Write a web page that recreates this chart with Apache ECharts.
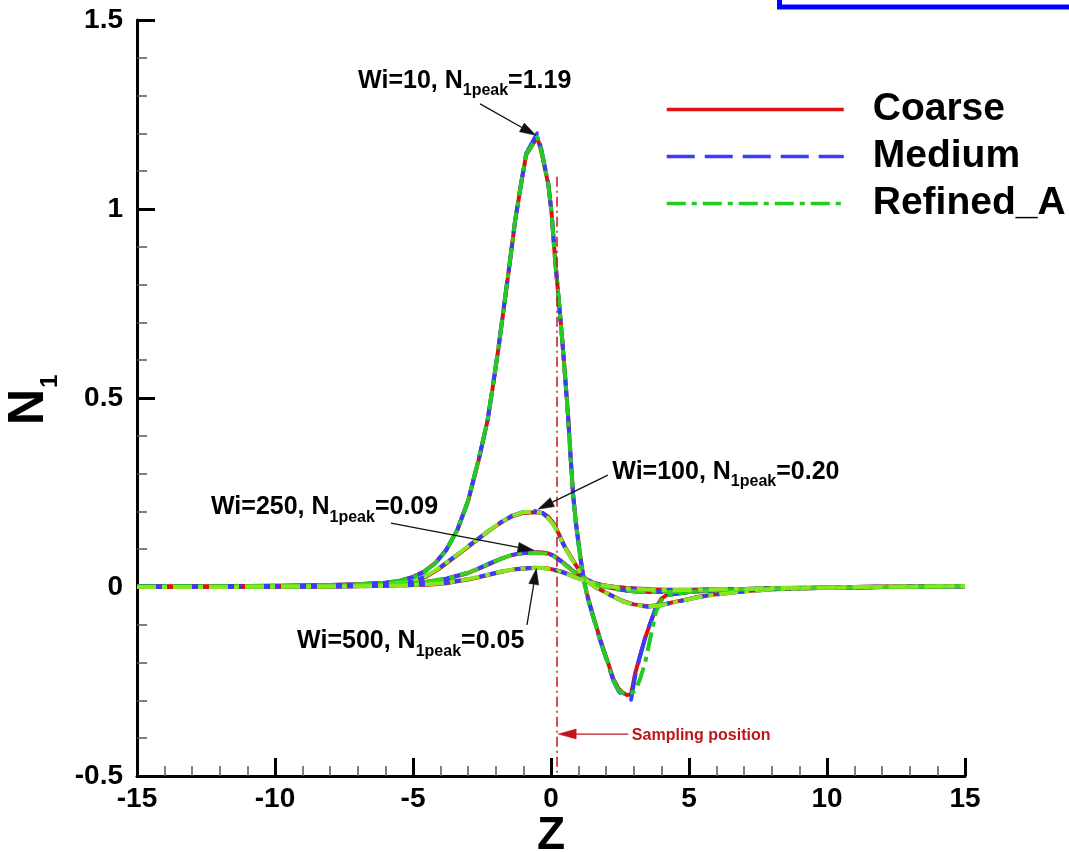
<!DOCTYPE html>
<html>
<head>
<meta charset="utf-8">
<script src="https://cdn.jsdelivr.net/npm/echarts@6/dist/echarts.min.js"></script>
<style>
  html, body { margin: 0; padding: 0; background: #ffffff; }
  #chart { width: 1069px; height: 852px; }
</style>
</head>
<body>
<div id="chart"></div>
<script>
// ---- N1 profiles along Z for three meshes and four Weissenberg numbers ----

// Wi = 10
const zWi10 = [-15, -12, -10, -8, -7, -6, -5.5, -5, -4.6, -4.2,
  -3.8, -3.4, -3.0, -2.6, -2.3, -2.1, -1.9, -1.7, -1.5, -1.3,
  -1.1, -0.9, -0.5, -0.35, -0.1, 0.02, 0.15, 0.27, 0.4, 0.52,
  0.62, 0.7, 0.8, 0.9, 1.05, 1.17, 1.29, 1.53, 1.78, 2.02,
  2.26, 2.44, 2.6, 2.75, 2.9, 3.05, 3.22, 3.41, 3.6, 3.8,
  4.0, 4.2, 5, 6, 7, 8, 10, 12, 15];
const n1Wi10Coarse = [0.002, 0.002, 0.003, 0.005, 0.007, 0.011, 0.016, 0.027, 0.041, 0.063,
  0.098, 0.15, 0.228, 0.342, 0.44, 0.533, 0.633, 0.743, 0.853, 0.968,
  1.058, 1.143, 1.19, 1.152, 1.066, 0.99, 0.866, 0.77, 0.662, 0.55,
  0.452, 0.357, 0.247, 0.172, 0.087, 0.029, -0.015, -0.077, -0.138, -0.19,
  -0.243, -0.268, -0.28, -0.286, -0.284, -0.228, -0.184, -0.135, -0.095, -0.057,
  -0.031, -0.021, -0.013, -0.009, -0.006, -0.004, -0.002, 0, 0.002];
const n1Wi10Medium = [0.002, 0.002, 0.003, 0.005, 0.007, 0.011, 0.016, 0.026, 0.04, 0.062,
  0.097, 0.149, 0.229, 0.344, 0.44, 0.535, 0.636, 0.746, 0.856, 0.97,
  1.061, 1.147, 1.2, 1.158, 1.069, 0.99, 0.864, 0.767, 0.659, 0.547,
  0.449, 0.354, 0.244, 0.169, 0.084, 0.026, -0.018, -0.08, -0.141, -0.194,
  -0.248, -0.274, -0.287, -0.296, -0.298, -0.235, -0.184, -0.135, -0.095, -0.055,
  -0.032, -0.021, -0.013, -0.009, -0.006, -0.004, -0.002, 0, 0.002];
const n1Wi10Refined = [0.002, 0.002, 0.003, 0.005, 0.007, 0.011, 0.016, 0.026, 0.04, 0.062,
  0.097, 0.15, 0.23, 0.345, 0.44, 0.535, 0.635, 0.745, 0.855, 0.97,
  1.06, 1.145, 1.19, 1.155, 1.068, 0.99, 0.865, 0.768, 0.66, 0.548,
  0.45, 0.355, 0.245, 0.17, 0.085, 0.027, -0.017, -0.079, -0.14, -0.193,
  -0.246, -0.272, -0.281, -0.282, -0.28, -0.275, -0.245, -0.2, -0.135, -0.066,
  -0.035, -0.022, -0.013, -0.009, -0.006, -0.004, -0.002, 0, 0.002];

// Wi = 100
const zWi100 = [-15, -12, -10, -8, -7, -6, -5, -4.5, -4.1, -3.8,
  -3.4, -3.0, -2.6, -2.2, -1.8, -1.4, -1.0, -0.6, -0.3, -0.1,
  0.1, 0.3, 0.5, 0.8, 1.1, 1.4, 1.7, 2.0, 2.6, 3.0,
  3.5, 4.0, 4.7, 5.4, 6.5, 8, 10, 12, 15];
const n1Wi100Coarse = [0, 0, 0.001, 0.002, 0.003, 0.006, 0.013, 0.028, 0.046, 0.062,
  0.084, 0.106, 0.129, 0.151, 0.171, 0.187, 0.196, 0.198, 0.196, 0.186,
  0.168, 0.138, 0.107, 0.07, 0.034, 0.011, -0.004, -0.015, -0.037, -0.046,
  -0.051, -0.047, -0.036, -0.025, -0.014, -0.006, -0.002, 0, 0.002];
const n1Wi100Medium = [0, 0, 0.001, 0.002, 0.003, 0.006, 0.014, 0.03, 0.048, 0.064,
  0.086, 0.108, 0.13, 0.152, 0.172, 0.189, 0.199, 0.201, 0.195, 0.182,
  0.164, 0.135, 0.105, 0.068, 0.033, 0.01, -0.005, -0.016, -0.038, -0.047,
  -0.052, -0.048, -0.037, -0.026, -0.015, -0.006, -0.002, 0, 0.002];
const n1Wi100Refined = [0, 0, 0.001, 0.002, 0.003, 0.006, 0.014, 0.03, 0.048, 0.064,
  0.086, 0.108, 0.13, 0.152, 0.172, 0.188, 0.198, 0.2, 0.195, 0.182,
  0.164, 0.135, 0.105, 0.068, 0.033, 0.01, -0.005, -0.016, -0.038, -0.047,
  -0.052, -0.048, -0.037, -0.026, -0.015, -0.006, -0.002, 0, 0.002];

// Wi = 250
const zWi250 = [-15, -12, -10, -8, -7, -6, -5, -4.5, -4.1, -3.8,
  -3.4, -3.0, -2.6, -2.2, -1.8, -1.4, -1.0, -0.6, -0.3, -0.1,
  0.1, 0.37, 0.6, 0.83, 1.05, 1.29, 1.6, 1.9, 2.3, 2.7,
  3.1, 3.6, 4.2, 5, 6, 7, 8, 10, 12, 15];
const n1Wi250Coarse = [0, 0.001, 0.001, 0.002, 0.003, 0.005, 0.009, 0.013, 0.018, 0.021,
  0.029, 0.037, 0.049, 0.062, 0.075, 0.085, 0.09, 0.092, 0.091, 0.089,
  0.083, 0.069, 0.055, 0.041, 0.03, 0.02, 0.01, 0.002, -0.004, -0.009,
  -0.012, -0.013, -0.013, -0.011, -0.008, -0.006, -0.004, -0.002, 0, 0.002];
const n1Wi250Medium = [0, 0.001, 0.001, 0.002, 0.003, 0.005, 0.01, 0.014, 0.019, 0.022,
  0.03, 0.038, 0.05, 0.063, 0.075, 0.085, 0.09, 0.091, 0.09, 0.088,
  0.082, 0.068, 0.054, 0.04, 0.029, 0.019, 0.009, 0.001, -0.005, -0.009,
  -0.012, -0.013, -0.013, -0.011, -0.008, -0.006, -0.004, -0.002, 0, 0.002];
const n1Wi250Refined = [0, 0.001, 0.001, 0.002, 0.003, 0.005, 0.01, 0.014, 0.019, 0.022,
  0.03, 0.038, 0.05, 0.063, 0.075, 0.085, 0.089, 0.09, 0.089, 0.087,
  0.081, 0.067, 0.053, 0.04, 0.029, 0.019, 0.009, 0.001, -0.005, -0.009,
  -0.012, -0.013, -0.013, -0.011, -0.008, -0.006, -0.004, -0.002, 0, 0.002];

// Wi = 500
const zWi500 = [-15, -12, -10, -8, -7, -6, -5, -4.5, -4.1, -3.8,
  -3.4, -3.0, -2.6, -2.2, -1.8, -1.4, -1.0, -0.6, -0.3, -0.1,
  0.1, 0.37, 0.6, 0.83, 1.05, 1.29, 1.6, 1.9, 2.3, 2.7,
  3.1, 3.6, 4.2, 5, 6, 7, 8, 10, 12, 15];
const n1Wi500Coarse = [0, 0, 0.001, 0.001, 0.002, 0.003, 0.005, 0.006, 0.008, 0.01,
  0.015, 0.02, 0.026, 0.033, 0.04, 0.046, 0.049, 0.051, 0.05, 0.049,
  0.046, 0.041, 0.035, 0.028, 0.022, 0.016, 0.01, 0.005, 0.001, -0.002,
  -0.004, -0.006, -0.007, -0.007, -0.006, -0.005, -0.003, -0.001, 0.001, 0.002];
const n1Wi500Medium = [0, 0, 0.001, 0.001, 0.002, 0.003, 0.005, 0.007, 0.009, 0.011,
  0.016, 0.021, 0.027, 0.034, 0.041, 0.046, 0.049, 0.05, 0.05, 0.048,
  0.045, 0.04, 0.034, 0.027, 0.021, 0.015, 0.009, 0.004, 0, -0.003,
  -0.005, -0.007, -0.008, -0.008, -0.006, -0.005, -0.003, -0.001, 0.001, 0.002];
const n1Wi500Refined = [0, 0, 0.001, 0.001, 0.002, 0.003, 0.005, 0.007, 0.009, 0.011,
  0.016, 0.021, 0.027, 0.034, 0.041, 0.046, 0.049, 0.05, 0.05, 0.048,
  0.045, 0.04, 0.034, 0.027, 0.021, 0.015, 0.009, 0.004, 0, -0.003,
  -0.005, -0.007, -0.008, -0.008, -0.006, -0.005, -0.003, -0.001, 0.001, 0.002];

// Axis ticks
const zTicks = [-15, -10, -5, 0, 5, 10, 15];
const n1Ticks = [-0.5, 0, 0.5, 1, 1.5];

// Sampling position (vertical marker)
const samplingZ = 0.2;
const samplingTop = 1.085;

// Peak annotations: label parts, label anchor (left edge, cap middle) and arrow tail/tip, in data units
const peakNotes = [
  { wi: '10',  peak: '1.19', at: [-6.99, 1.341],  from: [-2.57, 1.278], to: [-0.55, 1.195] },
  { wi: '100', peak: '0.20', at: [2.22, 0.307],   from: [2.06, 0.296],  to: [-0.47, 0.206] },
  { wi: '250', peak: '0.09', at: [-12.32, 0.212], from: [-5.8, 0.169],  to: [-0.62, 0.097] },
  { wi: '500', peak: '0.05', at: [-9.2, -0.142],  from: [-0.87, -0.1],  to: [-0.53, 0.049] }
];
const samplingNote = { text: 'Sampling position', at: [2.93, -0.392], from: [2.8, -0.389], to: [0.26, -0.389] };

// ---- styling ----
const FONT = '"Liberation Sans", Arial, Helvetica, sans-serif';
const RED = '#dd1111';
const BLUE = '#3b3bff';
const DARK_RED = '#c0141a';
const DASHED = [28, 10];
const DASH_DOT = [19, 6, 5, 6];

const cases = [
  { z: zWi10,  coarse: n1Wi10Coarse,  medium: n1Wi10Medium,  refined: n1Wi10Refined,  green: '#1fcc1f' },
  { z: zWi100, coarse: n1Wi100Coarse, medium: n1Wi100Medium, refined: n1Wi100Refined, green: '#86e81a' },
  { z: zWi250, coarse: n1Wi250Coarse, medium: n1Wi250Medium, refined: n1Wi250Refined, green: '#3fd021' },
  { z: zWi500, coarse: n1Wi500Coarse, medium: n1Wi500Medium, refined: n1Wi500Refined, green: '#86e81a' }
];

function pairs(z, v) { return z.map((x, i) => [x, v[i]]); }

function lineSeries(name, data, color, type) {
  return {
    name: name,
    type: 'line',
    data: data,
    symbol: 'none',
    showSymbol: false,
    smooth: false,
    silent: true,
    lineStyle: { color: color, width: 4, type: type, cap: 'butt', join: 'round' },
    itemStyle: { color: color }
  };
}

const series = [];
cases.forEach(c => series.push(lineSeries('Coarse', pairs(c.z, c.coarse), RED, 'solid')));
cases.forEach(c => series.push(lineSeries('Medium', pairs(c.z, c.medium), BLUE, DASHED)));
cases.forEach(c => series.push(lineSeries('Refined_A', pairs(c.z, c.refined), c.green, DASH_DOT)));

// sampling marker drawn on top of the curves
series[series.length - 1].markLine = {
  silent: true,
  symbol: ['none', 'none'],
  label: { show: false },
  lineStyle: { color: DARK_RED, width: 1.5, type: [10, 4, 2, 4] },
  data: [[{ coord: [samplingZ, samplingTop] }, { coord: [samplingZ, n1Ticks[0]] }]]
};

const axisLabelStyle = { fontSize: 28, fontWeight: 'bold', fontFamily: FONT, color: '#000' };

const option = {
  animation: false,
  backgroundColor: '#ffffff',
  grid: { left: 137, right: 104, top: 20, bottom: 76, containLabel: false, outerBoundsMode: 'none' },
  legend: {
    orient: 'vertical',
    left: 665,
    top: 90,
    padding: 0,
    itemWidth: 177,
    itemHeight: 14,
    itemGap: 8,
    selectedMode: false,
    data: ['Coarse', 'Medium', 'Refined_A'],
    lineStyle: { width: 3.5 },
    itemStyle: { opacity: 0, borderWidth: 0 },
    textStyle: { fontSize: 39, fontWeight: 'bold', fontFamily: FONT, color: '#000', padding: [0, 0, 0, 24] }
  },
  xAxis: {
    type: 'value',
    min: zTicks[0],
    max: zTicks[zTicks.length - 1],
    interval: zTicks[1] - zTicks[0],
    name: 'Z',
    nameLocation: 'middle',
    nameGap: 37,
    nameMoveOverlap: false,
    nameTextStyle: { fontSize: 46, fontWeight: 'bold', fontFamily: FONT, color: '#000' },
    axisLine: { show: true, onZero: false, lineStyle: { color: '#000', width: 3 } },
    axisTick: { show: true, inside: true, length: 18, lineStyle: { color: '#000', width: 3 } },
    minorTick: { show: true, splitNumber: 5, length: 10, lineStyle: { color: '#555', width: 1.5 } },
    splitLine: { show: false },
    minorSplitLine: { show: false },
    axisLabel: Object.assign({ margin: 9, showMinLabel: true, showMaxLabel: true }, axisLabelStyle)
  },
  yAxis: {
    type: 'value',
    min: n1Ticks[0],
    max: n1Ticks[n1Ticks.length - 1],
    interval: n1Ticks[1] - n1Ticks[0],
    axisLine: { show: true, onZero: false, lineStyle: { color: '#000', width: 3 } },
    axisTick: { show: true, inside: true, length: 18, lineStyle: { color: '#000', width: 3 } },
    minorTick: { show: true, splitNumber: 5, length: 10, lineStyle: { color: '#555', width: 1.5 } },
    splitLine: { show: false },
    minorSplitLine: { show: false },
    axisLabel: Object.assign({ margin: 14, showMinLabel: true, showMaxLabel: true }, axisLabelStyle)
  },
  series: series
};

const chart = echarts.init(document.getElementById('chart'), null, { renderer: 'canvas' });
chart.setOption(option);

// ---- annotations (placed from data coordinates) ----
function px(p) { return chart.convertToPixel({ gridIndex: 0 }, p); }

const measureCtx = document.createElement('canvas').getContext('2d');
function textWidth(t, size) {
  measureCtx.font = 'bold ' + size + 'px ' + FONT;
  return measureCtx.measureText(t).width;
}

// text pieces sharing one baseline, with optional subscript drop
function textRun(parts, x, capMid, color, mainSize) {
  const baseline = capMid + 0.358 * mainSize;
  const out = [];
  let cx = x;
  parts.forEach(p => {
    out.push({
      type: 'text', silent: true, z: 60,
      x: cx, y: baseline + (p.drop || 0) - 0.33 * p.size,
      style: { text: p.t, fontSize: p.size, fontWeight: 'bold', fontFamily: FONT, fill: color, align: 'left', verticalAlign: 'middle' }
    });
    cx += textWidth(p.t, p.size);
  });
  return out;
}

function arrow(from, to, color, headLen, headHalf, width) {
  const a = px(from), b = px(to);
  const dx = b[0] - a[0], dy = b[1] - a[1];
  const len = Math.sqrt(dx * dx + dy * dy);
  const ux = dx / len, uy = dy / len;
  const bx = b[0] - ux * headLen, by = b[1] - uy * headLen;
  return [
    { type: 'line', silent: true, z: 50,
      shape: { x1: a[0], y1: a[1], x2: bx, y2: by },
      style: { stroke: color, lineWidth: width } },
    { type: 'polygon', silent: true, z: 50,
      shape: { points: [[b[0], b[1]], [bx - uy * headHalf, by + ux * headHalf], [bx + uy * headHalf, by - ux * headHalf]] },
      style: { fill: color, stroke: color, lineWidth: 0.5 } }
  ];
}

const graphics = [];
peakNotes.forEach(n => {
  const p = px(n.at);
  textRun([
    { t: 'Wi=' + n.wi + ', N', size: 25 },
    { t: '1peak', size: 16, drop: 7 },
    { t: '=' + n.peak, size: 25 }
  ], p[0], p[1], '#000', 25).forEach(g => graphics.push(g));
  arrow(n.from, n.to, '#111', 16, 5, 1.3).forEach(g => graphics.push(g));
});

const sp = px(samplingNote.at);
graphics.push({
  type: 'text', silent: true, z: 60,
  x: sp[0], y: sp[1],
  style: {
    text: samplingNote.text,
    fontSize: 16, fontWeight: 'bold', fontFamily: FONT,
    fill: DARK_RED, align: 'left', verticalAlign: 'middle'
  }
});
arrow(samplingNote.from, samplingNote.to, DARK_RED, 18, 5, 1.3).forEach(g => graphics.push(g));

// vertical axis title N1, reading upwards, beside the left axis
const yMid = px([zTicks[0], (n1Ticks[0] + n1Ticks[n1Ticks.length - 1]) / 2]);
const nWidth = textWidth('N', 50);
graphics.push({
  type: 'group', silent: true, z: 60,
  x: yMid[0] - 91, y: yMid[1] + 2 + (nWidth + 14) / 2,
  rotation: Math.PI / 2,
  children: [
    { type: 'text', x: 0, y: -0.33 * 50,
      style: { text: 'N', fontSize: 50, fontWeight: 'bold', fontFamily: FONT, fill: '#000', align: 'left', verticalAlign: 'middle' } },
    { type: 'text', x: nWidth + 1, y: 12 - 0.33 * 24,
      style: { text: '1', fontSize: 24, fontWeight: 'bold', fontFamily: FONT, fill: '#000', align: 'left', verticalAlign: 'middle' } }
  ]
});

// blue frame edge along the top right
graphics.push({
  type: 'rect', silent: true, z: 70,
  shape: { x: 779.5, y: -30, width: 320, height: 37 },
  style: { fill: 'none', stroke: '#0000ff', lineWidth: 5 }
});

chart.setOption({ graphic: graphics });
</script>
</body>
</html>
